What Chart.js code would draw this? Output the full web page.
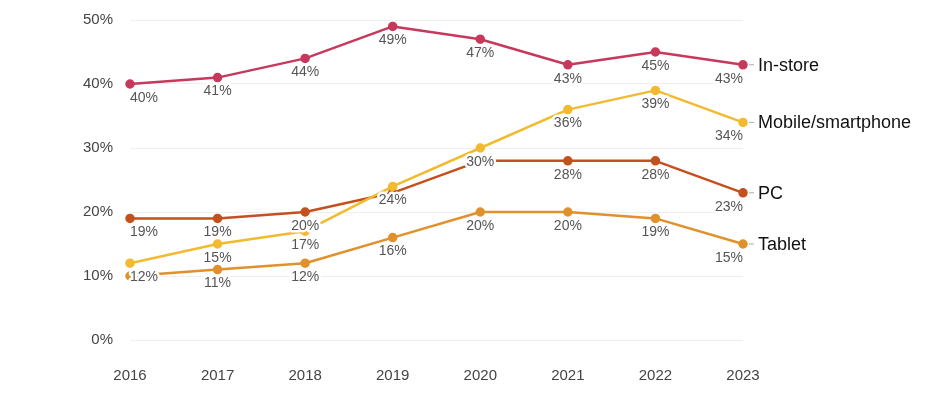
<!DOCTYPE html>
<html>
<head>
<meta charset="utf-8">
<script src="https://cdn.jsdelivr.net/npm/chart.js@4"></script>
<style>
  body { margin: 0; background: #fff; }
  #wrap { width: 926px; height: 405px; }
</style>
</head>
<body>
<div id="wrap"><canvas id="canalChart" width="926" height="405"></canvas></div>
<script>
const years = ['2016', '2017', '2018', '2019', '2020', '2021', '2022', '2023'];
const seriesNames = ['In-store', 'Mobile/smartphone', 'PC', 'Tablet'];
const inStore = [40, 41, 44, 49, 47, 43, 45, 43];
const mobile = [12, 15, 17, 24, 30, 36, 39, 34];
const pc = [19, 19, 20, 23, 28, 28, 28, 23];
const tablet = [10, 11, 12, 16, 20, 20, 19, 15];
const seriesColors = ['#c7395c', '#f2bb2f', '#c4511d', '#e0912b'];
const yTicks = [0, 10, 20, 30, 40, 50];
// value labels that are hidden in the original (they overlap other labels)
const hiddenLabels = { 'PC': [3, 4], 'Tablet': [0] };

const ctx = document.getElementById('canalChart').getContext('2d');

const allValues = [inStore, mobile, pc, tablet];
const datasets = allValues.map((vals, i) => ({
    label: seriesNames[i],
    data: vals,
    borderColor: seriesColors[i],
    backgroundColor: seriesColors[i],
    pointBackgroundColor: seriesColors[i],
    pointBorderColor: seriesColors[i],
    borderWidth: 2.5,
    pointRadius: 3.5,
    pointHoverRadius: 3.5,
    tension: 0,
    fill: false
}));

// etiquetas de valor + nomes das séries no fim das linhas
const labelPlugin = {
    id: 'labelPlugin',
    afterDatasetsDraw(chart) {
        const c = chart.ctx;
        c.save();
        c.font = '14px "Liberation Sans", Arial, sans-serif';
        c.textBaseline = 'middle';
        c.lineJoin = 'round';
        chart.data.datasets.forEach((ds, i) => {
            const meta = chart.getDatasetMeta(i);
            const hide = hiddenLabels[ds.label] || [];
            meta.data.forEach((pt, j) => {
                if (hide.includes(j)) return;
                const txt = ds.data[j] + '%';
                const last = meta.data.length - 1;
                c.textAlign = j === 0 ? 'left' : (j === last ? 'right' : 'center');
                const y = pt.y + 14;
                c.strokeStyle = '#fff';
                c.lineWidth = 5;
                c.strokeText(txt, pt.x, y);
                c.fillStyle = '#555';
                c.fillText(txt, pt.x, y);
            });
        });
        // nomes no final
        c.font = '18px "Liberation Sans", Arial, sans-serif';
        c.textAlign = 'left';
        chart.data.datasets.forEach((ds, i) => {
            const meta = chart.getDatasetMeta(i);
            const pt = meta.data[meta.data.length - 1];
            c.strokeStyle = '#aaa';
            c.lineWidth = 1;
            c.beginPath();
            c.moveTo(pt.x + 6, pt.y);
            c.lineTo(pt.x + 11, pt.y);
            c.stroke();
            c.fillStyle = '#111';
            c.fillText(ds.label, pt.x + 15, pt.y + 1);
        });
        c.restore();
    }
};

new Chart(ctx, {
    type: 'line',
    data: { labels: years, datasets: datasets },
    options: {
        responsive: false,
        animation: false,
        layout: { padding: { top: 20, right: 183, left: 0, bottom: 0 } },
        scales: {
            x: {
                offset: false,
                grid: { display: false, drawTicks: false },
                border: { display: false },
                ticks: {
                    color: '#444',
                    padding: 27,
                    maxRotation: 0,
                    font: { size: 15, family: '"Liberation Sans", Arial, sans-serif' }
                },
                afterFit: (scale) => { scale.height = 65; }
            },
            y: {
                min: 0,
                max: 50,
                grid: { color: '#efefef', drawTicks: false, lineWidth: 1 },
                border: { display: false },
                afterBuildTicks: (scale) => { scale.ticks = yTicks.map(v => ({ value: v })); },
                ticks: {
                    color: '#444',
                    padding: 17,
                    font: { size: 15, family: '"Liberation Sans", Arial, sans-serif' },
                    callback: (v) => v + '%'
                },
                afterFit: (scale) => {
                    scale.width = 130;
                    scale.paddingTop = 0;
                    scale.paddingBottom = 0;
                }
            }
        },
        plugins: {
            legend: { display: false },
            tooltip: { enabled: false }
        },
        elements: {
            line: { borderCapStyle: 'round', borderJoinStyle: 'round' }
        }
    },
    plugins: [labelPlugin]
});
</script>
</body>
</html>
